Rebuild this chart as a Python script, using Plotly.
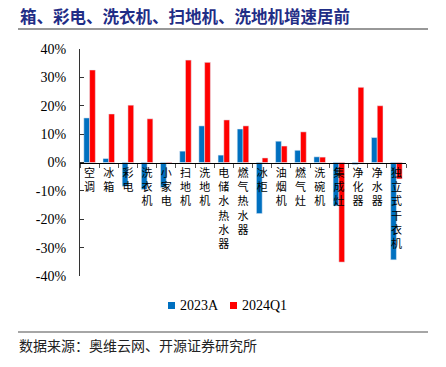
import plotly.graph_objects as go

categories = ["空调", "冰箱", "彩电", "洗衣机", "小家电", "扫地机", "洗地机", "电储水热水器",
              "燃气热水器", "冰柜", "油烟机", "燃气灶", "洗碗机", "集成灶", "净化器", "净水器", "独立式干衣机"]
v2023A = [15.7, 1.4, -8.4, -9.5, -8.8, 4.0, 12.9, 2.6, 11.8, -18.0, 7.5, 4.3, 2.0, -15.3, -0.7, 8.8, -34.3]
v2024Q1 = [32.6, 17.1, 20.2, 15.4, -0.3, 36.1, 35.3, 15.0, 12.9, 1.6, 5.8, 10.8, 1.9, -35.1, 26.5, 20.0, -5.8]
y_ticks = [-40, -30, -20, -10, 0, 10, 20, 30, 40]
y_tick_labels = [f"{v}%" for v in y_ticks]
series_names = ["2023A", "2024Q1"]
series_colors = ["#0070C0", "#FF0000"]

title_text = "箱、彩电、洗衣机、扫地机、洗地机增速居前"
source_text = "数据来源：奥维云网、开源证券研究所"

CJK = "Noto Sans CJK SC"
SERIF = "Liberation Serif, Times New Roman, serif"

fig = go.Figure()
for name, vals, col in zip(series_names, [v2023A, v2024Q1], series_colors):
    fig.add_trace(go.Bar(x=categories, y=vals, name=name, marker_color=col, showlegend=False))

tick_text = ["<br>".join(list(c)) for c in categories]

W, H = 446, 367
L, R, T, B = 80, 446 - 406, 49, 367 - 276
pw, ph = W - L - R, H - T - B


def px(x):
    return (x - L) / pw


def py(y):
    return (H - B - y) / ph


annotations = [
    dict(text=title_text, xref="paper", yref="paper", x=px(18), y=py(16),
         xanchor="left", yanchor="middle", showarrow=False,
         font=dict(family=CJK, size=16.5, color="#1F2D86", weight="bold")),
    dict(text=source_text, xref="paper", yref="paper", x=px(17), y=py(345),
         xanchor="left", yanchor="middle", showarrow=False,
         font=dict(family=CJK, size=14, color="#222")),
]
shapes = [
    dict(type="line", xref="paper", yref="paper", x0=px(18), x1=px(428),
         y0=py(29), y1=py(29), line=dict(color="#333", width=1.2)),
    dict(type="line", xref="paper", yref="paper", x0=px(18), x1=px(428),
         y0=py(332), y1=py(332), line=dict(color="#888", width=1.5)),
]
# legend drawn as squares + labels
leg_sq_x = [168, 230]
leg_tx_x = [178, 240]
for name, col, sx, tx in zip(series_names, series_colors, leg_sq_x, leg_tx_x):
    shapes.append(dict(type="rect", xref="paper", yref="paper", x0=px(sx), x1=px(sx + 7),
                       y0=py(302), y1=py(309), fillcolor=col, line=dict(width=0)))
    annotations.append(dict(text=name, xref="paper", yref="paper", x=px(tx), y=py(305.5),
                            xanchor="left", yanchor="middle", showarrow=False,
                            font=dict(family=SERIF, size=14, color="#000")))

fig.update_layout(
    width=W, height=H,
    margin=dict(l=L, r=R, t=T, b=B),
    paper_bgcolor="white", plot_bgcolor="white",
    barmode="group", bargap=0.4, bargroupgap=0,
    showlegend=False,
    xaxis=dict(
        type="category", tickmode="array", tickvals=categories, ticktext=tick_text,
        anchor="free", position=0.5, showline=True, linecolor="#000", linewidth=1,
        ticks="outside", tickson="boundaries", ticklen=4, tickcolor="#555",
        tickangle=0, tickfont=dict(family=CJK, size=11, color="#000"),
        showgrid=False, zeroline=False,
    ),
    yaxis=dict(
        range=[-40, 40], tickmode="array", tickvals=y_ticks, ticktext=y_tick_labels,
        showline=True, linecolor="#333", linewidth=1, ticks="inside", ticklen=4,
        tickcolor="#333", tickfont=dict(family=SERIF, size=14, color="#000"),
        showgrid=False, zeroline=False, ticklabelstandoff=10,
    ),
    annotations=annotations,
    shapes=shapes,
)

fig.write_html("out.html", config={"displayModeBar": False},
               post_script="document.body.style.margin='0';document.body.style.overflow='hidden';")
